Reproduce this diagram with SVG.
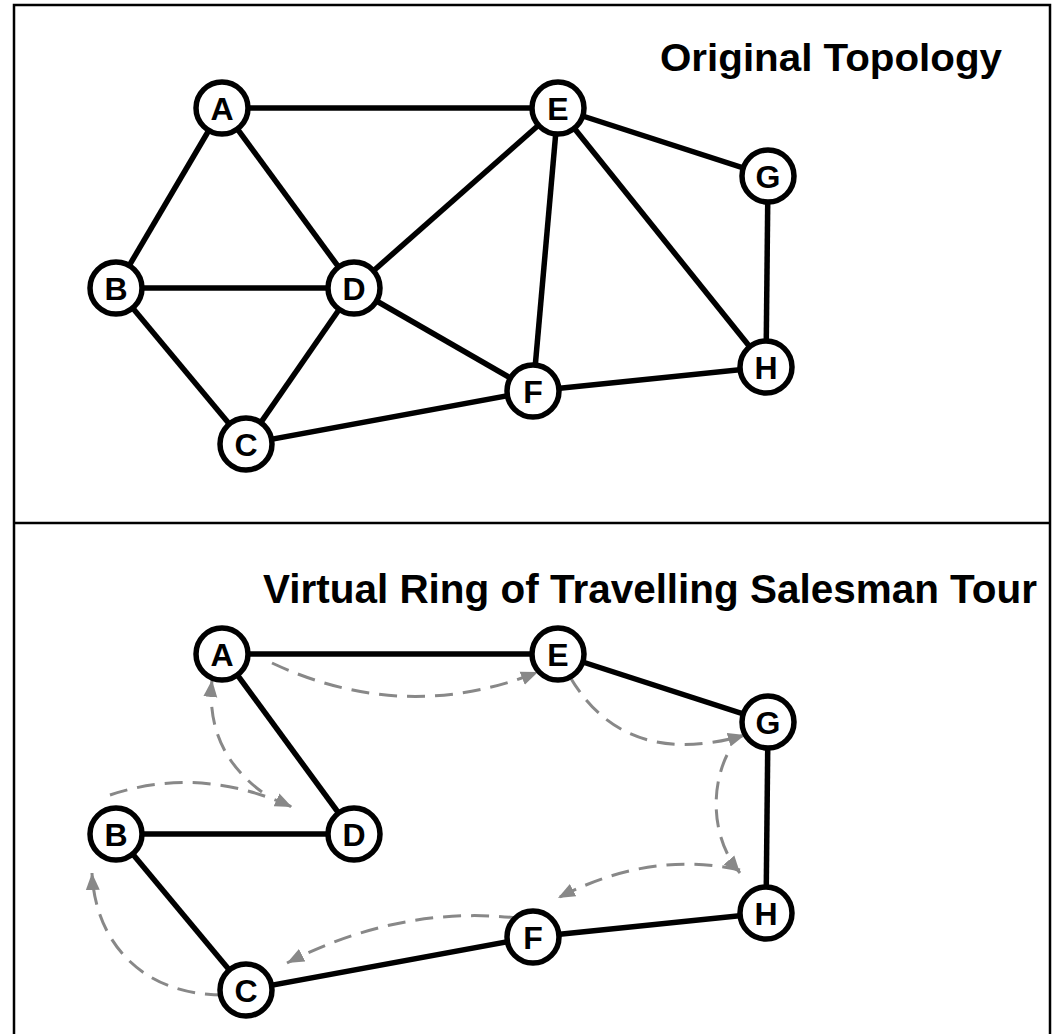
<svg xmlns="http://www.w3.org/2000/svg" width="1054" height="1034" viewBox="0 0 1054 1034">
  <style>
    .frame { fill: none; stroke: #000; stroke-width: 2.5; }
    .edge { stroke: #000; stroke-width: 5.5; fill: none; }
    .tour { stroke: #888; stroke-width: 3; fill: none; stroke-dasharray: 18 10; marker-end: url(#arrow); }
    .node circle { fill: #fff; stroke: #000; stroke-width: 5.5; }
    .node text { font-family: "Liberation Sans", Arial, sans-serif; font-weight: bold; font-size: 32px; text-anchor: middle; fill: #000; }
    .title { font-family: "Liberation Sans", Arial, sans-serif; font-weight: bold; fill: #000; }
  </style>
  <defs>
    <marker id="arrow" markerUnits="userSpaceOnUse" markerWidth="20" markerHeight="16" refX="17" refY="8" orient="auto">
      <path d="M0,1 L17,8 L0,15 Z" fill="#888"/>
    </marker>
  </defs>

  <rect width="1054" height="1034" fill="#fff"/>

  <!-- panel frame and divider -->
  <g id="frame">
    <rect class="frame" x="14" y="5" width="1036" height="1040"/>
    <line class="frame" x1="14" y1="523" x2="1050" y2="523"/>
  </g>

  <text class="title" x="660" y="71" font-size="39" textLength="342" lengthAdjust="spacingAndGlyphs">Original Topology</text>
  <text class="title" x="263" y="603" font-size="40" textLength="774" lengthAdjust="spacingAndGlyphs">Virtual Ring of Travelling Salesman Tour</text>

  <!-- connectors -->
  <g id="connectors">
    <!-- full mesh -->
    <line class="edge" x1="222" y1="108" x2="558" y2="108"/>
    <line class="edge" x1="222" y1="108" x2="116" y2="288"/>
    <line class="edge" x1="222" y1="108" x2="354" y2="288"/>
    <line class="edge" x1="116" y1="288" x2="354" y2="288"/>
    <line class="edge" x1="116" y1="288" x2="246" y2="444"/>
    <line class="edge" x1="246" y1="444" x2="354" y2="288"/>
    <line class="edge" x1="354" y1="288" x2="558" y2="108"/>
    <line class="edge" x1="354" y1="288" x2="533" y2="391"/>
    <line class="edge" x1="558" y1="108" x2="533" y2="391"/>
    <line class="edge" x1="558" y1="108" x2="768" y2="176"/>
    <line class="edge" x1="558" y1="108" x2="766" y2="367"/>
    <line class="edge" x1="768" y1="176" x2="766" y2="367"/>
    <line class="edge" x1="533" y1="391" x2="766" y2="367"/>
    <line class="edge" x1="246" y1="444" x2="533" y2="391"/>

    <!-- tour edges -->
    <line class="edge" x1="222" y1="654" x2="558" y2="654"/>
    <line class="edge" x1="222" y1="654" x2="354" y2="834"/>
    <line class="edge" x1="116" y1="834" x2="354" y2="834"/>
    <line class="edge" x1="116" y1="834" x2="246" y2="990"/>
    <line class="edge" x1="246" y1="990" x2="533" y2="937"/>
    <line class="edge" x1="533" y1="937" x2="766" y2="913"/>
    <line class="edge" x1="768" y1="722" x2="766" y2="913"/>
    <line class="edge" x1="558" y1="654" x2="768" y2="722"/>

    <!-- virtual ring -->
    <path class="tour" d="M272,663 Q405,725 538,672"/>
    <path class="tour" d="M570,677 Q625,770 745,735"/>
    <path class="tour" d="M727,755 C710,790 712,840 740,873"/>
    <path class="tour" d="M740,870 Q650,850 558,898"/>
    <path class="tour" d="M517,918 Q400,905 287,963"/>
    <path class="tour" d="M223,995 C140,995 95,940 92,873"/>
    <path class="tour" d="M110,795 Q200,765 292,807"/>
    <path class="tour" d="M262,792 Q205,750 212,680"/>
  </g>

  <!-- nodes: upper panel -->
  <g id="node-A1" class="node"><circle cx="222" cy="108" r="26"/><text x="222" y="119.5">A</text></g>
  <g id="node-E1" class="node"><circle cx="558" cy="108" r="26"/><text x="558" y="119.5">E</text></g>
  <g id="node-G1" class="node"><circle cx="768" cy="176" r="26"/><text x="768" y="187.5">G</text></g>
  <g id="node-B1" class="node"><circle cx="116" cy="288" r="26"/><text x="116" y="299.5">B</text></g>
  <g id="node-D1" class="node"><circle cx="354" cy="288" r="26"/><text x="354" y="299.5">D</text></g>
  <g id="node-F1" class="node"><circle cx="533" cy="391" r="26"/><text x="533" y="402.5">F</text></g>
  <g id="node-H1" class="node"><circle cx="766" cy="367" r="26"/><text x="766" y="378.5">H</text></g>
  <g id="node-C1" class="node"><circle cx="246" cy="444" r="26"/><text x="246" y="455.5">C</text></g>

  <!-- nodes: lower panel -->
  <g id="node-A2" class="node"><circle cx="222" cy="654" r="26"/><text x="222" y="665.5">A</text></g>
  <g id="node-E2" class="node"><circle cx="558" cy="654" r="26"/><text x="558" y="665.5">E</text></g>
  <g id="node-G2" class="node"><circle cx="768" cy="722" r="26"/><text x="768" y="733.5">G</text></g>
  <g id="node-B2" class="node"><circle cx="116" cy="834" r="26"/><text x="116" y="845.5">B</text></g>
  <g id="node-D2" class="node"><circle cx="354" cy="834" r="26"/><text x="354" y="845.5">D</text></g>
  <g id="node-F2" class="node"><circle cx="533" cy="937" r="26"/><text x="533" y="948.5">F</text></g>
  <g id="node-H2" class="node"><circle cx="766" cy="913" r="26"/><text x="766" y="924.5">H</text></g>
  <g id="node-C2" class="node"><circle cx="246" cy="990" r="26"/><text x="246" y="1001.5">C</text></g>
</svg>
